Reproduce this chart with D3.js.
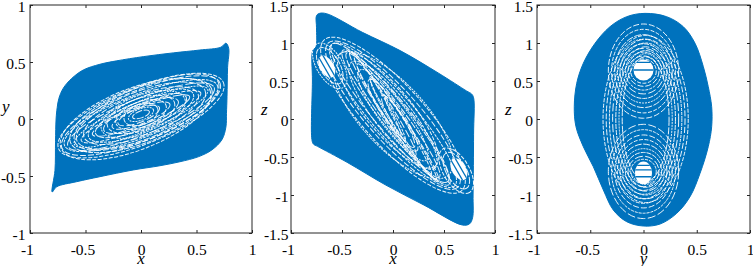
<!DOCTYPE html>
<html>
<head>
<meta charset="utf-8">
<script src="https://cdn.jsdelivr.net/npm/d3@7"></script>
<style>
  body { margin: 0; background: #fff; }
  text { font-family: "Liberation Serif", "Times New Roman", Times, serif; }
</style>
</head>
<body>
<svg id="chart" width="753" height="266"></svg>
<script>
// tick values
var ticks1 = [-1, -0.5, 0, 0.5, 1];
var ticks15 = [-1.5, -1, -0.5, 0, 0.5, 1, 1.5];

// outline of the attractor in each plane
var xyOutline = [
  [-0.80, -0.64], [-0.775, -0.45], [-0.77, -0.2], [-0.765, 0.0], [-0.755, 0.1],
  [-0.74, 0.18], [-0.70, 0.27], [-0.625, 0.355], [-0.52, 0.43], [-0.37, 0.48],
  [-0.22, 0.51], [0.02, 0.547], [0.29, 0.58], [0.53, 0.605], [0.72, 0.63],
  [0.765, 0.665], [0.79, 0.62], [0.78, 0.45], [0.775, 0.2], [0.77, 0.05],
  [0.765, -0.07], [0.73, -0.18], [0.64, -0.27], [0.52, -0.33], [0.35, -0.375],
  [0.17, -0.41], [-0.07, -0.447], [-0.37, -0.506], [-0.58, -0.55], [-0.76, -0.595]
];
var xzOutline = [
  [-0.75, 1.36], [-0.72, 1.39], [-0.65, 1.385], [-0.3, 1.14], [0.07, 0.9],
  [0.45, 0.6], [0.72, 0.37], [0.77, 0.33], [0.79, 0.28], [0.79, -0.2],
  [0.785, -1.0], [0.78, -1.3], [0.75, -1.38], [0.68, -1.395], [0.3, -1.13],
  [-0.07, -0.87], [-0.45, -0.57], [-0.74, -0.36], [-0.78, -0.33], [-0.795, -0.27],
  [-0.79, 0.5], [-0.787, 0.9], [-0.755, 0.95], [-0.75, 1.2]
];
var yzOutline = [
  [0.014, 1.39], [0.218, 1.346], [0.374, 1.214], [0.484, 0.996], [0.562, 0.688],
  [0.608, 0.425], [0.64, 0.162], [0.64, -0.101], [0.608, -0.364], [0.531, -0.714],
  [0.437, -1.022], [0.312, -1.241], [0.155, -1.382], [-0.002, -1.408], [-0.158, -1.351],
  [-0.284, -1.197], [-0.377, -0.934], [-0.471, -0.628], [-0.565, -0.364], [-0.634, -0.101],
  [-0.65, 0.162], [-0.627, 0.47], [-0.565, 0.733], [-0.455, 0.996], [-0.315, 1.214],
  [-0.158, 1.346]
];

// inner orbits seen as white loops: [cx, cy, rx, ry, slope]
var xyRings = [
  [0, 0.03, 0.80, 0.25, 0.39], [0, 0.03, 0.77, 0.22, 0.40], [0, 0.03, 0.74, 0.19, 0.38],
  [0, 0.02, 0.71, 0.16, 0.39], [0, 0.03, 0.68, 0.24, 0.37], [0, 0.02, 0.65, 0.13, 0.40],
  [0, 0.03, 0.62, 0.21, 0.38], [0, 0.02, 0.58, 0.10, 0.39], [0, 0.03, 0.55, 0.18, 0.37],
  [0, 0.03, 0.51, 0.15, 0.40], [0, 0.03, 0.47, 0.08, 0.38], [0, 0.03, 0.44, 0.12, 0.39],
  [0.02, 0.04, 0.40, 0.17, 0.36], [0, 0.03, 0.36, 0.10, 0.38], [0, 0.04, 0.32, 0.14, 0.35],
  [0, 0.03, 0.28, 0.07, 0.39], [0, 0.04, 0.24, 0.11, 0.36], [-0.02, 0.03, 0.20, 0.06, 0.38],
  [0, 0.04, 0.16, 0.09, 0.35], [0, 0.04, 0.12, 0.05, 0.37], [0, 0.04, 0.08, 0.03, 0.36],
  [-0.05, 0.0, 0.72, 0.27, 0.38], [0.05, 0.06, 0.70, 0.23, 0.40]
];
var xzRings = [
  [0, 0.05, 1.0, 0.40, -1.47], [0, 0.05, 0.95, 0.34, -1.5], [0, 0.05, 0.92, 0.28, -1.55],
  [-0.03, 0.08, 0.88, 0.22, -1.6], [0.03, 0.02, 0.84, 0.18, -1.7], [0, 0.05, 0.80, 0.42, -1.45],
  [0, 0.05, 0.76, 0.14, -1.8], [-0.05, 0.12, 0.72, 0.30, -1.6], [0.05, -0.05, 0.70, 0.10, -1.95],
  [0, 0.05, 0.66, 0.24, -1.7], [-0.1, 0.2, 0.6, 0.08, -2.1], [0.1, -0.12, 0.6, 0.08, -2.1],
  [0, 0.05, 0.55, 0.18, -1.8], [-0.15, 0.3, 0.45, 0.06, -2.3], [0.15, -0.22, 0.45, 0.06, -2.3],
  [0, 0.05, 0.42, 0.12, -2.0], [-0.05, 0.12, 0.35, 0.05, -2.4], [0.05, -0.03, 0.3, 0.08, -2.2],
  [-0.62, 0.7, 0.2, 0.13, -2.3], [-0.62, 0.7, 0.25, 0.17, -2.2],
  [0.62, -0.68, 0.2, 0.13, -2.3], [0.62, -0.68, 0.25, 0.17, -2.2]
];
var yzRings = [
  [0.02, 0, 0.40, 1.10, 0], [0.02, 0, 0.37, 1.05, 0], [0.02, 0, 0.34, 1.00, 0], [0.02, 0, 0.31, 0.95, 0],
  [0.02, 0, 0.28, 0.90, 0], [0.02, 0, 0.25, 0.86, 0], [0.02, 0, 0.22, 0.82, 0],
  [0, 0.63, 0.12, 0.16, 0], [0, 0.63, 0.145, 0.20, 0], [0, 0.63, 0.17, 0.25, 0], [0, 0.63, 0.195, 0.30, 0],
  [0, 0.63, 0.22, 0.36, 0], [0, 0.63, 0.245, 0.42, 0], [0, 0.63, 0.27, 0.48, 0], [0, 0.63, 0.30, 0.55, 0],
  [0, 0.63, 0.33, 0.62, 0],
  [0, -0.69, 0.12, 0.16, 0], [0, -0.69, 0.145, 0.20, 0], [0, -0.69, 0.17, 0.25, 0], [0, -0.69, 0.195, 0.30, 0],
  [0, -0.69, 0.22, 0.36, 0], [0, -0.69, 0.245, 0.42, 0], [0, -0.69, 0.27, 0.48, 0], [0, -0.69, 0.30, 0.55, 0],
  [0, -0.69, 0.33, 0.62, 0]
];

// empty holes around the equilibria: [cx, cy, rx, ry, slope]
var xzHoles = [[-0.65, 0.69, 0.118, 0.092, -2.32], [0.645, -0.66, 0.118, 0.092, -2.32]];
var yzHoles = [[0, 0.645, 0.094, 0.138, 0], [0, -0.71, 0.08, 0.15, 0]];
// blue stripes crossing the holes: [hole, offset]
var xzStripes = [[0, -0.03], [0, 0.03], [1, -0.03], [1, 0.03]];
var yzStripes = [[0, 0.0], [0, 0.1], [1, -0.05], [1, 0.04], [1, 0.1]];

var blue = '#0072BD';
var serif = '"Liberation Serif", "Times New Roman", Times, serif';
var svg = d3.select('#chart');

var panels = [
  {id: 'p1', left: 30, right: 252, xd: [-1, 1], yd: [-1, 1], xt: ticks1, yt: ticks1,
   xl: 'x', yl: 'y', ylx: 2, pad: 4.5, outline: xyOutline, rings: xyRings, holes: [], stripes: []},
  {id: 'p2', left: 291, right: 495, xd: [-1, 1], yd: [-1.5, 1.5], xt: ticks1, yt: ticks15,
   xl: 'x', yl: 'z', ylx: 261, pad: 2.5, outline: xzOutline, rings: xzRings, holes: xzHoles, stripes: xzStripes},
  {id: 'p3', left: 537, right: 750, xd: [-1, 1], yd: [-1.5, 1.5], xt: ticks1, yt: ticks15,
   xl: 'y', yl: 'z', ylx: 505, pad: 4, outline: yzOutline, rings: yzRings, holes: yzHoles, stripes: yzStripes}
];
var plotTop = 5, plotBottom = 233;
var dashes = ['4 1.5', '6 2', '3 1', '8 2.5', '5 1', '2 1', '7 1.5'];

panels.forEach(function(p) {
  var x = d3.scaleLinear().domain(p.xd).range([p.left, p.right]);
  var y = d3.scaleLinear().domain(p.yd).range([plotBottom, plotTop]);
  var kx = x(1) - x(0), ky = y(0) - y(1);
  var g = svg.append('g');

  function placeAt(d) {
    var ang = Math.atan2(-d[4] * ky, kx) * 180 / Math.PI;
    return 'translate(' + x(d[0]) + ',' + y(d[1]) + ') rotate(' + ang + ')';
  }
  function ellipseAttrs(sel) {
    sel.attr('cx', 0).attr('cy', 0)
      .attr('rx', function(d) { return d[2] * kx; })
      .attr('ry', function(d) { return d[3] * ky; })
      .attr('transform', placeAt);
  }

  var line = d3.line()
    .x(function(d) { return x(d[0]); })
    .y(function(d) { return y(d[1]); })
    .curve(d3.curveCatmullRomClosed.alpha(0.5));

  g.append('path')
    .datum(p.outline)
    .attr('d', line)
    .attr('fill', blue)
    .attr('stroke', blue)
    .attr('stroke-width', 1);

  g.selectAll('ellipse.ring')
    .data(p.rings)
    .enter()
    .append('ellipse')
    .attr('class', 'ring')
    .call(ellipseAttrs)
    .attr('fill', 'none')
    .attr('stroke', '#fff')
    .attr('stroke-width', 1)
    .attr('stroke-opacity', 0.92)
    .attr('stroke-dasharray', function(d, i) { return dashes[i % dashes.length]; });

  // holes, with their stripes clipped inside
  p.holes.forEach(function(h, i) {
    var cid = p.id + 'hole' + i;
    svg.append('clipPath').attr('id', cid)
      .selectAll('ellipse').data([h]).enter().append('ellipse')
      .attr('cx', 0).attr('cy', 0).attr('rx', h[2] * kx).attr('ry', h[3] * ky);
    g.selectAll('ellipse.hole' + i).data([h]).enter()
      .append('ellipse').attr('class', 'hole' + i)
      .call(ellipseAttrs)
      .attr('fill', '#fff');
    var hg = g.append('g').attr('transform', placeAt(h));
    hg.append('g').attr('clip-path', 'url(#' + cid + ')')
      .selectAll('line')
      .data(p.stripes.filter(function(s) { return s[0] === i; }))
      .enter()
      .append('line')
      .attr('x1', -h[2] * kx * 1.2).attr('x2', h[2] * kx * 1.2)
      .attr('y1', function(s) { return -s[1] * ky; })
      .attr('y2', function(s) { return -s[1] * ky; })
      .attr('stroke', blue)
      .attr('stroke-width', 1.3);
  });

  // box
  g.append('rect')
    .attr('x', p.left).attr('y', plotTop)
    .attr('width', p.right - p.left).attr('height', plotBottom - plotTop)
    .attr('fill', 'none').attr('stroke', '#262626').attr('stroke-width', 1);

  var fmt = function(d) { return String(d); };
  var ax = g.append('g').attr('transform', 'translate(0,' + plotBottom + ')')
    .call(d3.axisBottom(x).tickValues(p.xt).tickFormat(fmt).tickSizeInner(-3).tickSizeOuter(0).tickPadding(11));
  var ay = g.append('g').attr('transform', 'translate(' + p.left + ',0)')
    .call(d3.axisLeft(y).tickValues(p.yt).tickFormat(fmt).tickSizeInner(-3).tickSizeOuter(0).tickPadding(p.pad));
  var axt = g.append('g').attr('transform', 'translate(0,' + plotTop + ')')
    .call(d3.axisTop(x).tickValues(p.xt).tickFormat('').tickSizeInner(-3).tickSizeOuter(0));
  var ayr = g.append('g').attr('transform', 'translate(' + p.right + ',0)')
    .call(d3.axisRight(y).tickValues(p.yt).tickFormat('').tickSizeInner(-3).tickSizeOuter(0));

  [ax, ay, axt, ayr].forEach(function(a) {
    a.attr('font-family', serif).attr('font-size', 15.5);
    a.select('.domain').remove();
    a.selectAll('line').attr('stroke', '#262626');
    a.selectAll('text').attr('fill', '#000');
  });
  ax.selectAll('text').attr('dx', function(d) { return d < 0 ? '-0.2em' : 0; });
  ay.selectAll('text').attr('dy', '0.45em');

  g.append('text')
    .attr('x', (p.left + p.right) / 2).attr('y', 264)
    .attr('text-anchor', 'middle')
    .attr('font-family', serif)
    .style('font-size', '17px').style('font-style', 'italic')
    .text(p.xl);
  g.append('text')
    .attr('x', p.ylx).attr('y', p.yl === 'y' ? 112 : 115)
    .attr('font-family', serif)
    .style('font-size', '17px').style('font-style', 'italic')
    .text(p.yl);
});
</script>
</body>
</html>
